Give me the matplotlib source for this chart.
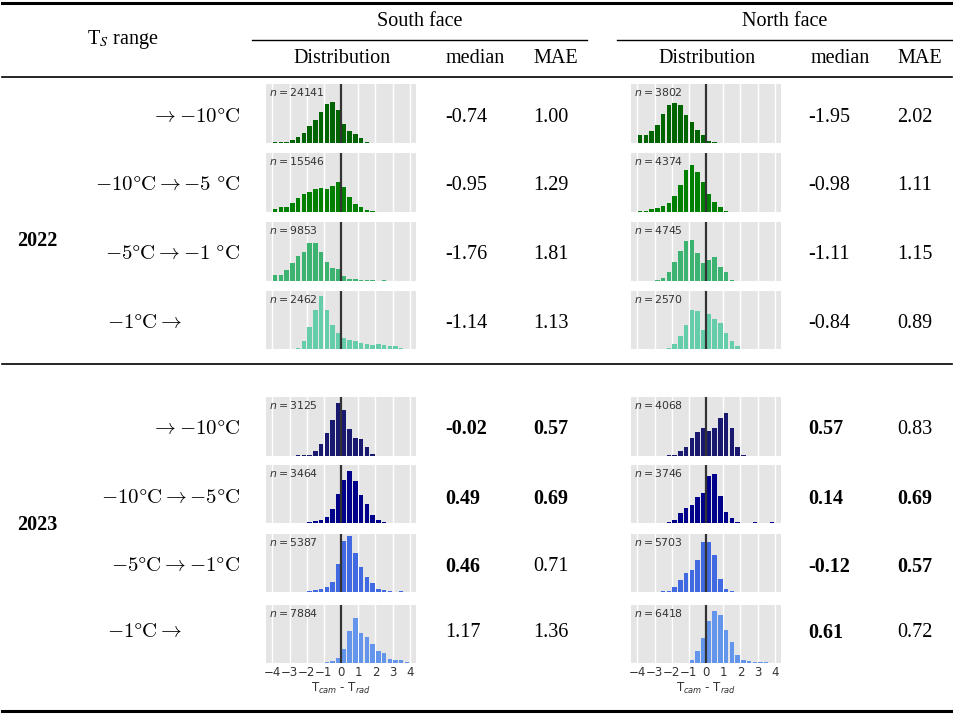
import numpy as np
import matplotlib
matplotlib.use("Agg")
import matplotlib.pyplot as plt
from matplotlib.lines import Line2D

# ---------------- data ----------------
bin_edges = np.linspace(-4, 4, 25)
years = ["2022", "2023"]
range_labels_2022 = [r"$\rightarrow {-}10\degree\mathrm{C}$",
                     r"$-10\degree\mathrm{C} \rightarrow {-}5\ \degree\mathrm{C}$",
                     r"$-5\degree\mathrm{C} \rightarrow {-}1\ \degree\mathrm{C}$",
                     r"$-1\degree\mathrm{C} \rightarrow$"]
range_labels_2023 = [r"$\rightarrow {-}10\degree\mathrm{C}$",
                     r"$-10\degree\mathrm{C} \rightarrow {-}5\degree\mathrm{C}$",
                     r"$-5\degree\mathrm{C} \rightarrow {-}1\degree\mathrm{C}$",
                     r"$-1\degree\mathrm{C} \rightarrow$"]

south_n_2022 = [24141, 15546, 9853, 2462]
north_n_2022 = [3802, 4374, 4745, 2570]
south_n_2023 = [3125, 3464, 5387, 7884]
north_n_2023 = [4068, 3746, 5703, 6418]

south_median_2022 = ["-0.74", "-0.95", "-1.76", "-1.14"]
south_mae_2022 = ["1.00", "1.29", "1.81", "1.13"]
north_median_2022 = ["-1.95", "-0.98", "-1.11", "-0.84"]
north_mae_2022 = ["2.02", "1.11", "1.15", "0.89"]
south_median_2023 = ["-0.02", "0.49", "0.46", "1.17"]
south_mae_2023 = ["0.57", "0.69", "0.71", "1.36"]
north_median_2023 = ["0.57", "0.14", "-0.12", "0.61"]
north_mae_2023 = ["0.83", "0.69", "0.57", "0.72"]

south_median_bold_2023 = [True, True, True, False]
south_mae_bold_2023 = [True, True, False, False]
north_median_bold_2023 = [True, True, True, True]
north_mae_bold_2023 = [False, True, True, False]

# histogram heights (percent of panel height), 24 bins of 1/3 from -4 to 4
south_hist_2022 = [
    [1, 2, 2, 5, 11, 17, 28, 39, 52, 66, 69, 56, 33, 20, 15, 8, 1, 0, 0, 0, 0, 0, 0, 0],
    [5, 8, 9, 15, 24, 30, 34, 39, 41, 39, 44, 51, 42, 25, 13, 8, 3, 1, 0, 0, 0, 0, 0, 0],
    [10, 11, 18, 30, 42, 50, 64, 64, 49, 32, 22, 20, 9, 3, 3, 2, 1, 1, 0, 1, 0, 0, 0, 0],
    [0, 0, 0, 0, 1, 13, 38, 67, 91, 68, 42, 28, 19, 16, 14, 10, 9, 7, 9, 7, 5, 5, 2, 0],
]
north_hist_2022 = [
    [14, 14, 20, 31, 50, 65, 68, 64, 47, 35, 22, 13, 3, 2, 0, 0, 0, 0, 0, 0, 0, 0, 0, 0],
    [1, 1, 5, 7, 10, 15, 27, 45, 72, 80, 68, 51, 31, 17, 8, 2, 0, 0, 0, 0, 0, 0, 0, 0],
    [0, 0, 0, 1, 5, 15, 32, 51, 68, 69, 47, 31, 36, 40, 24, 16, 1, 0, 0, 0, 0, 0, 0, 0],
    [0, 0, 0, 0, 0, 1, 9, 22, 41, 67, 65, 33, 61, 52, 44, 28, 14, 5, 0, 0, 0, 0, 0, 0],
]
south_hist_2023 = [
    [0, 0, 0, 0, 1, 1, 1, 9, 20, 39, 61, 90, 78, 45, 30, 28, 16, 3, 0, 0, 0, 0, 0, 0],
    [0, 0, 0, 0, 0, 0, 2, 3, 5, 10, 24, 50, 75, 89, 72, 49, 32, 13, 5, 2, 0, 0, 0, 0],
    [0, 0, 0, 0, 0, 0, 2, 3, 6, 9, 17, 49, 88, 97, 67, 43, 26, 15, 6, 3, 1, 0, 2, 0],
    [0, 0, 0, 0, 0, 0, 0, 0, 0, 1, 4, 8, 24, 55, 77, 52, 45, 32, 20, 17, 7, 6, 6, 2],
]
north_hist_2023 = [
    [0, 0, 0, 0, 0, 1, 1, 8, 15, 30, 41, 47, 43, 48, 64, 73, 47, 16, 2, 0, 0, 0, 0, 0],
    [0, 0, 0, 0, 0, 1, 6, 17, 26, 31, 44, 52, 81, 84, 47, 19, 9, 2, 0, 0, 1, 0, 0, 1],
    [0, 0, 0, 0, 1, 1, 8, 20, 33, 38, 55, 86, 86, 64, 23, 6, 2, 0, 0, 0, 0, 0, 0, 0],
    [0, 0, 0, 0, 0, 0, 0, 0, 0, 5, 20, 43, 73, 89, 83, 57, 36, 13, 5, 3, 2, 2, 2, 0],
]

colors_2022 = ["#006400", "#008000", "#3CB371", "#66CDAA"]
colors_2023 = ["#191970", "#00008B", "#4169E1", "#6495ED"]
xticks = [-4, -3, -2, -1, 0, 1, 2, 3, 4]

# ---------------- layout ----------------
W, H = 954, 715
fig = plt.figure(figsize=(W / 100, H / 100), dpi=100)
SERIF = "Liberation Serif"
FS = 14.5
DY = 2.5  # text vertical offset in px


def fx(x):
    return x / W


def fy(y):
    return 1 - y / H


def hline(x1, x2, y, lw):
    fig.add_artist(Line2D([fx(x1), fx(x2)], [fy(y), fy(y)], transform=fig.transFigure,
                          color="black", lw=lw))


def txt(x, y, s, ha="left", bold=False, size=FS, **kw):
    fig.text(fx(x), fy(y + DY), s, ha=ha, va="center", family=SERIF, size=size,
             weight="bold" if bold else "normal", **kw)


# rules
hline(2, 952, 3, 2.2)
hline(2, 952, 77, 1.2)
hline(2, 952, 364, 1.2)
hline(2, 952, 711, 2.2)
hline(252, 587, 40, 1.0)
hline(617, 952, 40, 1.0)

# headers
txt(420, 19, "South face", ha="center")
txt(785, 19, "North face", ha="center")
fig.text(fx(123), fy(37 + DY), r"T$_S$ range", ha="center", va="center", family=SERIF,
         size=FS, math_fontfamily="stix")
for xc, s in [(342, "Distribution"), (475, "median"), (556, "MAE"),
              (707, "Distribution"), (840, "median"), (920, "MAE")]:
    txt(xc, 56, s, ha="center")

row_y_2022 = [115, 183, 252, 321]
row_y_2023 = [427, 496, 564, 630]
panels_2022 = [(84, 143), (153, 212), (222, 281), (291, 349)]
panels_2023 = [(397, 456), (465, 523), (534, 592), (605, 663)]

txt(17, 238, "2022", bold=True)
txt(17, 522, "2023", bold=True)


def range_label(y, s, last):
    if last:
        fig.text(fx(107), fy(y + 1), s, ha="left", va="center", size=15, math_fontfamily="cm")
    else:
        fig.text(fx(240), fy(y + 1), s, ha="right", va="center", size=15, math_fontfamily="cm")


def hist_panel(x0, x1, top, bot, heights, color, n, bottom_row):
    ax = fig.add_axes([fx(x0), fy(bot), fx(x1) - fx(x0), (bot - top) / H])
    ax.set_facecolor("#E5E5E5")
    centers = (bin_edges[:-1] + bin_edges[1:]) / 2
    width = bin_edges[1] - bin_edges[0]
    ax.bar(centers, heights, width=width * 0.78, color=color, zorder=2)
    ax.set_xlim(-4.37, 4.36)
    ax.set_ylim(0, 100)
    ax.set_xticks(xticks)
    ax.set_yticks([])
    ax.grid(axis="x", color="white", lw=1.0, zorder=1)
    ax.set_axisbelow(True)
    ax.axvline(0, color="#333333", lw=1.6, zorder=3)
    for sp in ax.spines.values():
        sp.set_visible(False)
    ax.tick_params(axis="x", length=0, pad=2, labelsize=8.5, labelcolor="#333333")
    if bottom_row:
        ax.set_xticklabels([f"{t}".replace("-", "\u2212") for t in xticks], family="DejaVu Sans")
        ax.set_xlabel(r"T$_{cam}$ - T$_{rad}$", size=8.5, color="#333333", labelpad=1.5)
    else:
        ax.set_xticklabels([])
    ax.text(0.02, 0.86, r"$n = $" + f"{n}", transform=ax.transAxes, size=7.8,
            color="#333333", ha="left", va="center", zorder=4)
    return ax


for i in range(4):
    y = row_y_2022[i]
    range_label(y, range_labels_2022[i], i == 3)
    top, bot = panels_2022[i]
    hist_panel(266, 416, top, bot, south_hist_2022[i], colors_2022[i], south_n_2022[i], False)
    hist_panel(631, 781, top, bot, north_hist_2022[i], colors_2022[i], north_n_2022[i], False)
    txt(445, y, south_median_2022[i])
    txt(533, y, south_mae_2022[i])
    txt(808, y, north_median_2022[i])
    txt(897, y, north_mae_2022[i])

for i in range(4):
    y = row_y_2023[i]
    range_label(y, range_labels_2023[i], i == 3)
    top, bot = panels_2023[i]
    hist_panel(266, 416, top, bot, south_hist_2023[i], colors_2023[i], south_n_2023[i], i == 3)
    hist_panel(631, 781, top, bot, north_hist_2023[i], colors_2023[i], north_n_2023[i], i == 3)
    txt(445, y, south_median_2023[i], bold=south_median_bold_2023[i])
    txt(533, y, south_mae_2023[i], bold=south_mae_bold_2023[i])
    txt(808, y, north_median_2023[i], bold=north_median_bold_2023[i])
    txt(897, y, north_mae_2023[i], bold=north_mae_bold_2023[i])

fig.savefig("out.png", dpi=100)
